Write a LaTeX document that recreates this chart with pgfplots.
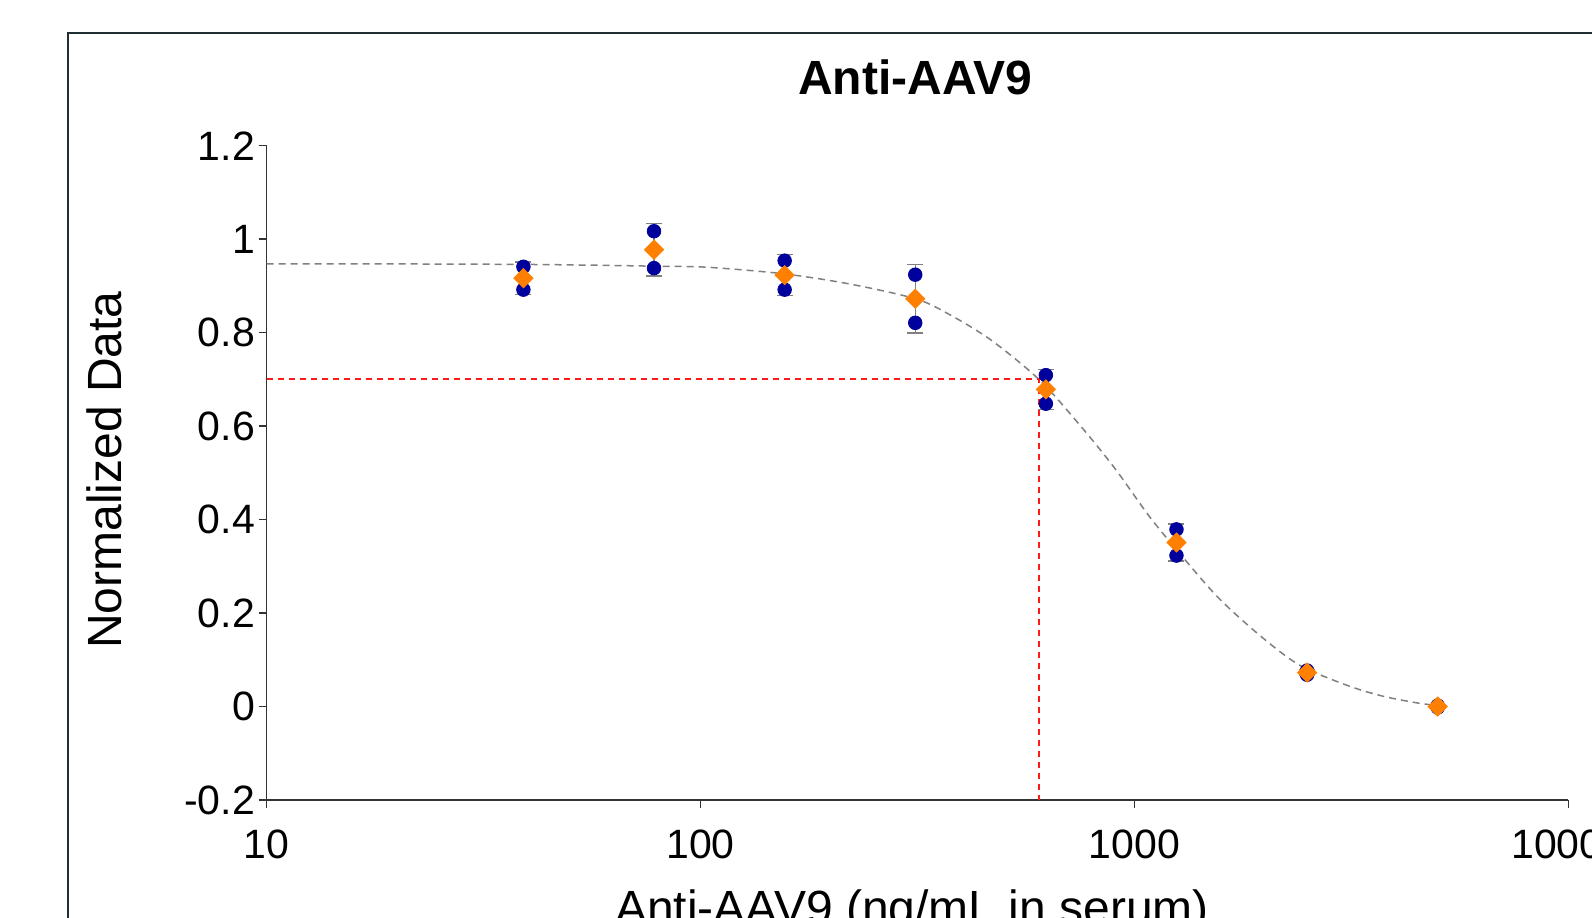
\documentclass[border=0pt]{standalone}
\usepackage{pgfplots}
\pgfplotsset{compat=1.18}
\usepackage{pgfplotstable}
\usepackage{fontspec}
\setmainfont{Liberation Sans}
\definecolor{framec}{HTML}{1F2E33}
\definecolor{navy}{HTML}{00009C}
\definecolor{orng}{HTML}{FF8000}
\definecolor{fitgray}{HTML}{808080}
\definecolor{refred}{HTML}{FF1A1A}
\definecolor{axc}{HTML}{333333}

\pgfplotstableread{
x        y
39.0625  0.941
39.0625  0.892
78.125   1.017
78.125   0.938
156.25   0.954
156.25   0.892
312.5    0.924
312.5    0.821
625      0.709
625      0.648
1250     0.379
1250     0.323
2500     0.077
2500     0.068
5000     0.002
5000     -0.002
}\reps

\pgfplotstableread{
x        y       err
39.0625  0.9165  0.0346
78.125   0.9775  0.0559
156.25   0.9230  0.0438
312.5    0.8725  0.0728
625      0.6785  0.0431
1250     0.3510  0.0396
2500     0.0725  0.0064
5000     0.0000  0.0028
}\means

\pgfplotstableread{
x      y
10     0.947
20     0.947
39     0.946
60     0.944
80     0.942
103.5  0.940
155    0.926
221    0.904
314    0.872
376    0.838
469    0.783
607    0.697
763    0.593
909    0.505
1086   0.405
1297   0.318
1549   0.236
1847   0.170
2203   0.112
2500   0.080
3141   0.043
3743   0.022
4467   0.008
5000   0.002
}\fit

\begin{document}
\begin{tikzpicture}
\useasboundingbox (0,0) rectangle (796pt,458.5pt);
\clip (0,0) rectangle (796pt,458.5pt);
\fill[white] (0,0) rectangle (796pt,458.5pt);
\draw[framec, line width=1.25pt] (34pt,-5pt) -- (34pt,442pt) -- (805pt,442pt);
\begin{axis}[
  at={(133.35pt,58.5pt)}, anchor=south west,
  scale only axis, width=650.8pt, height=327.15pt,
  xmode=log, xmin=10, xmax=10000, ymin=-0.2, ymax=1.2,
  xtick={10,100,1000,10000}, xticklabels={10,100,1000,10000},
  ytick={-0.2,0,0.2,0.4,0.6,0.8,1,1.2},
  yticklabels={-0.2,0,0.2,0.4,0.6,0.8,1,1.2},
  xminorticks=false, yminorticks=false,
  axis x line*=bottom, axis y line*=left,
  axis line style={-, draw=axc, line width=0.75pt},
  tick align=outside, major tick length=4pt,
  tick style={draw=axc, line width=0.75pt},
  xticklabel style={font=\fontsize{20.5}{24}\selectfont, anchor=base, inner sep=0pt, yshift=-25.15pt},
  yticklabel style={font=\fontsize{20.5}{24}\selectfont, anchor=east, inner sep=0pt, xshift=-1.7pt},
  every axis title/.style={at={(axis description cs:0.4981,1)}, anchor=base, yshift=25.7pt, font=\bfseries\fontsize{24}{28}\selectfont},
  every axis y label/.style={at={(axis description cs:-0.1112,0.5044)}, rotate=90, anchor=base, font=\fontsize{24}{28}\selectfont},
  every axis x label/.style={at={(axis description cs:0.4958,-0.191)}, anchor=base, font=\fontsize{24}{28}\selectfont},
  title={Anti-AAV9},
  xlabel={Anti-AAV9 (ng/mL in serum)},
  ylabel={Normalized Data},
  clip=false,
]
\addplot[fitgray, line width=0.75pt, dash pattern=on 3.5pt off 2.5pt, smooth, mark=none] table[x=x,y=y] {\fit};
\addplot[refred, line width=0.9pt, dash pattern=on 3pt off 2.5pt, mark=none] coordinates {(10,0.7) (602,0.7) (602,-0.2)};
\addplot[only marks, mark=none,
  error bars/.cd, y dir=both, y explicit, error mark=-,
  error bar style={fitgray, line width=0.75pt},
  error mark options={rotate=90, fitgray, mark size=4pt, line width=0.75pt}]
  table[x=x, y=y, y error=err] {\means};
\addplot[only marks, mark=*, mark size=3.4pt, mark options={draw=navy, fill=navy}] table[x=x,y=y] {\reps};
\addplot[only marks, mark=square*, mark size=3.4pt, mark options={draw=orng, fill=orng, rotate=45}] table[x=x,y=y] {\means};
\end{axis}
\end{tikzpicture}
\end{document}
